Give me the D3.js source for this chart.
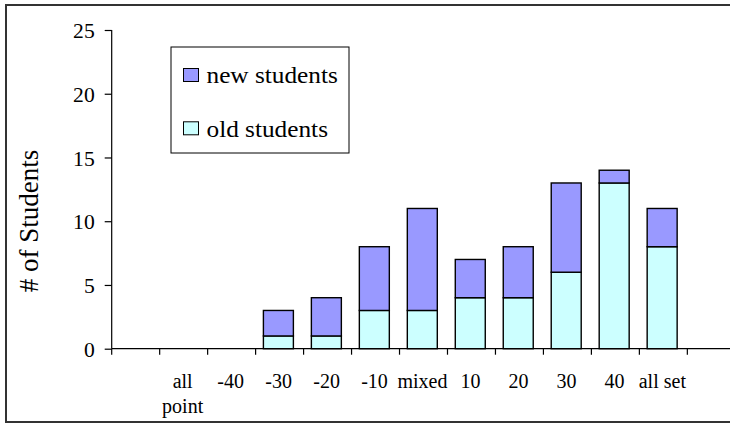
<!DOCTYPE html>
<html>
<head>
<meta charset="utf-8">
<script src="https://cdn.jsdelivr.net/npm/d3@7"></script>
<style>
  html, body { margin: 0; padding: 0; background: #fff; }
</style>
</head>
<body>
<svg id="chart" width="730" height="424"></svg>
<script>
// Categories along the x axis (one empty slot is kept on each side of them)
const categories = ["all point", "-40", "-30", "-20", "-10", "mixed", "10", "20", "30", "40", "all set"];
// Stacked counts per category
const oldStudents = [0, 0, 1, 1, 3, 3, 4, 4, 6, 13, 8];
const newStudents = [0, 0, 2, 3, 5, 8, 3, 4, 7, 1, 3];
const yTicks = [0, 5, 10, 15, 20, 25];
const seriesNames = ["new students", "old students"];
const seriesColors = { "new students": "#9999ff", "old students": "#ccffff" };

const FONT = "'Liberation Serif', 'Times New Roman', serif";
const svg = d3.select("#chart");
const margin = { left: 111.7, top: 30, bottom: 348.7 };
const slotCount = categories.length + 2;
const slot = 47.97;

// Outer frame (runs off the right edge)
svg.append("rect")
  .attr("x", 6).attr("y", 5).attr("width", 760).attr("height", 417)
  .attr("fill", "none").attr("stroke", "#333").attr("stroke-width", 2);

const x = d3.scaleBand()
  .domain(d3.range(slotCount))
  .range([margin.left, margin.left + slotCount * slot])
  .paddingInner(0.375).paddingOuter(0.1875);

const y = d3.scaleLinear().domain([0, 25]).range([margin.bottom, margin.top]);

const rows = categories.map((c, i) => ({ slot: i + 1, label: c, old: oldStudents[i], new: newStudents[i] }));
const stack = d3.stack().keys(["old", "new"])(rows);
const keyColor = { old: seriesColors["old students"], new: seriesColors["new students"] };

svg.append("g").selectAll("g").data(stack).join("g")
  .attr("fill", d => keyColor[d.key])
  .selectAll("rect").data(d => d.filter(s => s[1] > s[0])).join("rect")
  .attr("x", d => x(d.data.slot) - 1.2)
  .attr("width", x.bandwidth())
  .attr("y", d => y(d[1]))
  .attr("height", d => y(d[0]) - y(d[1]))
  .attr("stroke", "#000").attr("stroke-width", 1.4);

// Y axis
const yAxis = svg.append("g").attr("transform", `translate(${margin.left},0)`)
  .call(d3.axisLeft(y).tickValues(yTicks).tickSize(7).tickPadding(10));
yAxis.select(".domain").attr("stroke", "#000").attr("stroke-width", 1.2).attr("d", `M0,${y(25)}V${y(0)}`);
yAxis.selectAll(".tick line").attr("stroke", "#000").attr("stroke-width", 1.2);
yAxis.selectAll(".tick text")
  .style("font-family", FONT).style("font-size", "20px")
  .attr("dy", "0.38em").attr("transform", "scale(1.08,1)").attr("transform-origin", "-17 0");

// X axis: ticks on slot boundaries
const bounds = d3.range(slotCount).map(i => margin.left + i * slot);
const xg = svg.append("g");
xg.append("line")
  .attr("x1", margin.left).attr("x2", margin.left + slotCount * slot)
  .attr("y1", margin.bottom).attr("y2", margin.bottom)
  .attr("stroke", "#000").attr("stroke-width", 1.2);
xg.selectAll("line.tick").data(bounds).join("line").attr("class", "tick")
  .attr("x1", d => d).attr("x2", d => d)
  .attr("y1", margin.bottom).attr("y2", margin.bottom + 6)
  .attr("stroke", "#000").attr("stroke-width", 1.2);

// Category labels, wrapped to the slot width
const labels = xg.selectAll("text.cat").data(rows).join("text").attr("class", "cat")
  .attr("x", d => x(d.slot) + x.bandwidth() / 2 - 1)
  .attr("y", 388)
  .attr("text-anchor", "middle")
  .style("font-family", FONT).style("font-size", "20px");
labels.each(function(d) {
  const t = d3.select(this);
  const cx = +t.attr("x");
  t.text(d.label);
  if (this.getComputedTextLength() > slot + 2) {
    t.text(null);
    d.label.split(" ").forEach((w, k) => {
      t.append("tspan").attr("x", cx).attr("dy", k === 0 ? 0 : "1.25em").text(w);
    });
  }
});

// Y axis title
svg.append("text")
  .attr("transform", "translate(38,221) rotate(-90)")
  .attr("text-anchor", "middle")
  .style("font-family", FONT).style("font-size", "27px")
  .text("# of Students");

// Legend
const lg = svg.append("g");
lg.append("rect").attr("x", 171).attr("y", 47).attr("width", 178).attr("height", 106)
  .attr("fill", "#fff").attr("stroke", "#000").attr("stroke-width", 1);
const items = lg.selectAll("g.item").data(seriesNames).join("g").attr("class", "item")
  .attr("transform", (d, i) => `translate(183.5,${68.5 + i * 53.3})`);
items.append("rect").attr("width", 15).attr("height", 13)
  .attr("fill", d => seriesColors[d]).attr("stroke", "#000").attr("stroke-width", 1);
items.append("text").attr("x", 23).attr("y", 14.8)
  .style("font-family", FONT).style("font-size", "23px")
  .attr("transform", "scale(1.1,1)")
  .attr("transform-origin", "23 0")
  .text(d => d);
</script>
</body>
</html>
